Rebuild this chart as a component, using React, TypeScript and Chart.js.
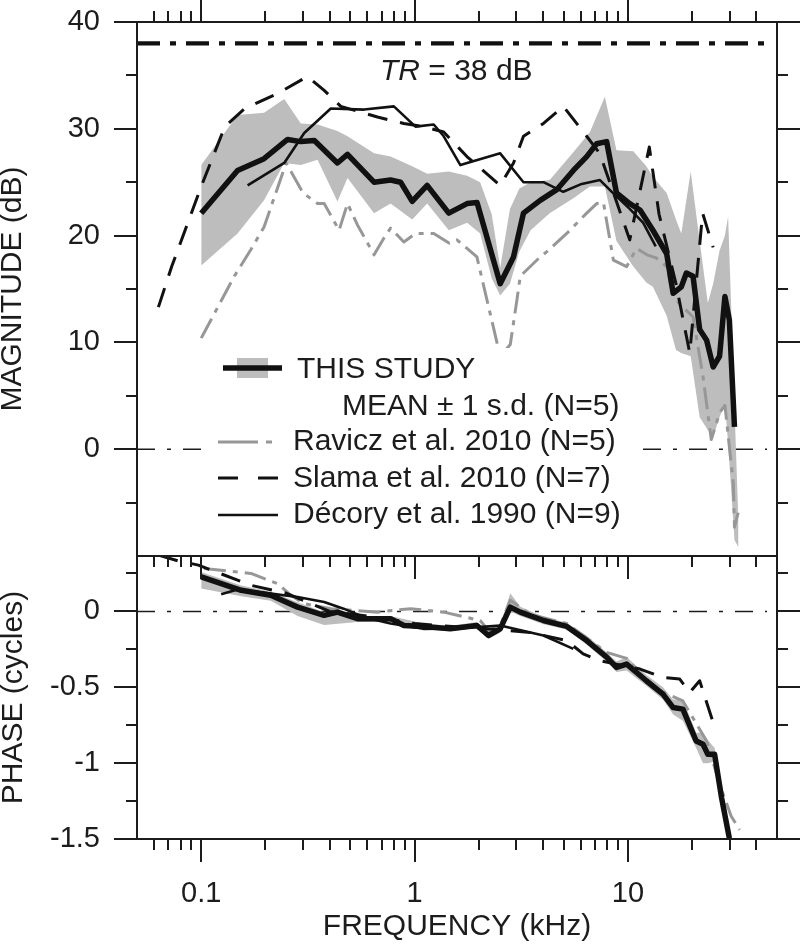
import React, { useEffect, useRef } from 'react';
import { Chart, registerables } from 'chart.js';

Chart.register(...registerables);

const FONT = '"Liberation Sans", Arial, Helvetica, sans-serif';
const INK = '#1c1c1c';
const BAND_COLOR = '#bdbdbd';
const RAVICZ_COLOR = '#979797';

// ---------- axes ----------
const FREQ_MIN = 0.05;
const FREQ_MAX = 50;
const FREQ_MAJOR = [0.1, 1, 10];
const FREQ_LABELS = ['0.1', '1', '10'];
const FREQ_MINOR = [0.06, 0.07, 0.08, 0.09, 0.2, 0.3, 0.4, 0.5, 0.6, 0.7, 0.8, 0.9, 2, 3, 4, 5, 6, 7, 8, 9, 20, 30, 40];

const MAG_MIN = -10;
const MAG_MAX = 40;
const MAG_MAJOR = [40, 30, 20, 10, 0];
const MAG_LABELS = ['40', '30', '20', '10', '0'];
const MAG_MINOR = [35, 25, 15, 5, -5];

const PH_MIN = -1.5;
const PH_MAX = 0.365;
const PH_MAJOR = [0, -0.5, -1, -1.5];
const PH_LABELS = ['0', '-0.5', '-1', '-1.5'];
const PH_MINOR = [0.25, -0.25, -0.75, -1.25];

const TR_DB = 38;

// ---------- magnitude (dB) ----------
const STUDY_MAG_F = [0.1, 0.148, 0.197, 0.254, 0.293, 0.339, 0.435, 0.485, 0.646, 0.772, 0.86, 0.975, 1.146, 1.447, 1.763, 1.963, 2.52, 2.91, 3.24, 3.88, 4.64, 5.55, 6.41, 7.14, 7.95, 8.84, 10.2, 11.4, 13.1, 15.2, 16.3, 17.8, 18.8, 20.2, 21.7, 23.4, 25.1, 26.9, 28.5, 29.9, 31.6];
const STUDY_MAG = [22.1, 26.1, 27.2, 29.0, 28.8, 28.9, 26.8, 27.6, 25.0, 25.2, 25.0, 23.2, 24.7, 22.1, 23.0, 23.1, 15.5, 18.0, 22.1, 23.3, 24.3, 26.1, 27.4, 28.6, 28.8, 24.0, 23.0, 22.4, 20.5, 18.3, 14.6, 15.2, 16.5, 16.2, 11.2, 10.2, 7.7, 8.7, 14.3, 12.1, 2.1];

const BAND_MAG_F = [0.1, 0.148, 0.197, 0.245, 0.293, 0.351, 0.435, 0.485, 0.646, 0.772, 0.975, 1.146, 1.447, 1.763, 2.03, 2.3, 2.52, 2.8, 3.1, 3.5, 4.3, 5.55, 6.64, 7.8, 8.84, 10.6, 12.2, 13.1, 15.2, 16.8, 17.8, 19.7, 21.7, 23.7, 25.1, 26.9, 28.5, 29.5, 31.6, 33.0];
const BAND_MAG_UPPER = [26.6, 31.3, 31.5, 32.8, 30.5, 30.4, 29.8, 29.3, 27.7, 27.4, 26.5, 25.8, 26.0, 25.6, 25.0, 22.0, 17.0, 22.5, 24.4, 25.0, 25.2, 27.8, 29.7, 33.0, 28.0, 27.9, 26.5, 25.5, 24.0, 21.5, 20.2, 26.0, 19.5, 13.7, 15.5, 18.6, 20.0, 21.8, 4.0, -7.0];
const BAND_MAG_LOWER = [17.2, 20.2, 23.3, 26.8, 26.6, 27.1, 23.2, 25.4, 22.1, 23.0, 21.5, 23.0, 20.5, 21.2, 20.2, 16.0, 14.4, 15.5, 18.5, 20.5, 22.1, 23.5, 24.6, 24.6, 19.5, 17.1, 15.6, 15.2, 12.5, 9.3, 9.0, 8.7, 3.0, 1.8, 1.2, 3.0, 4.3, 0.5, -8.5, -9.2];

const RAVICZ_MAG_F = [0.1, 0.143, 0.171, 0.197, 0.25, 0.3, 0.351, 0.377, 0.443, 0.485, 0.54, 0.646, 0.72, 0.772, 0.891, 1.01, 1.23, 1.45, 1.58, 1.96, 2.52, 2.81, 3.02, 3.13, 3.88, 4.17, 5.17, 6.41, 7.14, 7.68, 8.55, 9.87, 10.97, 12.3, 13.6, 15.2, 16.3, 18.1, 20.2, 22.5, 24.6, 26.9, 28.5, 31.2, 31.6, 33.4];
const RAVICZ_MAG = [10.4, 16.2, 18.7, 20.8, 26.8, 24.0, 23.0, 23.0, 20.5, 23.0, 21.0, 18.2, 19.8, 20.7, 19.4, 20.2, 20.2, 19.3, 19.6, 18.0, 8.7, 9.8, 14.0, 16.2, 18.0, 18.5, 20.2, 22.1, 23.0, 23.1, 17.7, 17.1, 18.8, 18.2, 17.9, 17.1, 14.3, 13.3, 12.4, 6.8, 0.9, 3.4, 4.1, -3.2, -7.3, -5.4];

const SLAMA_MAG_F = [0.063, 0.0727, 0.1, 0.129, 0.16, 0.228, 0.315, 0.377, 0.451, 0.67, 0.891, 1.105, 1.37, 1.76, 2.52, 2.91, 3.24, 4.02, 4.98, 6.41, 7.38, 10.2, 12.6, 14.0, 16.8, 19.5, 22.4, 25.1];
const SLAMA_MAG = [13.3, 17.1, 24.6, 30.2, 31.9, 33.3, 34.9, 33.6, 32.1, 31.1, 30.5, 30.2, 29.7, 27.4, 24.7, 26.8, 29.3, 30.5, 32.1, 29.3, 27.7, 19.6, 28.3, 22.0, 15.5, 9.0, 22.1, 18.9];

const DECORY_MAG_F = [0.165, 0.245, 0.304, 0.405, 0.58, 0.8, 1.01, 1.23, 1.37, 1.64, 2.52, 3.24, 4.02, 4.98, 6.0, 7.4, 8.5, 10.2, 11.8, 13.5];
const DECORY_MAG = [24.7, 26.8, 29.6, 31.9, 31.8, 32.1, 30.2, 30.4, 29.3, 26.6, 27.7, 25.0, 25.0, 24.1, 24.8, 25.2, 24.0, 22.5, 21.2, 19.0];

// ---------- phase (cycles) ----------
const STUDY_PH_F = [0.1, 0.154, 0.212, 0.283, 0.377, 0.435, 0.54, 0.772, 0.891, 1.1, 1.47, 1.96, 2.22, 2.52, 2.81, 3.13, 4.02, 5.17, 6.41, 7.95, 8.84, 9.87, 12.2, 14.6, 16.3, 18.1, 20.9, 22.5, 23.7, 25.5, 27.5, 29.9];
const STUDY_PH = [0.227, 0.139, 0.106, 0.028, -0.026, -0.005, -0.048, -0.048, -0.093, -0.099, -0.115, -0.093, -0.159, -0.115, 0.028, -0.005, -0.06, -0.099, -0.192, -0.302, -0.369, -0.347, -0.457, -0.545, -0.634, -0.644, -0.854, -0.876, -0.942, -0.942, -1.23, -1.495];

const BAND_PH_F = [0.1, 0.154, 0.212, 0.283, 0.377, 0.54, 0.772, 1.1, 1.47, 1.96, 2.22, 2.52, 2.81, 3.13, 4.02, 5.17, 6.41, 7.95, 8.84, 9.87, 12.2, 14.6, 16.3, 18.1, 20.9, 22.5, 23.7, 25.5, 27.5, 29.9];
const BAND_PH_UPPER = [0.26, 0.17, 0.13, 0.06, -0.005, -0.03, -0.03, -0.08, -0.095, -0.07, -0.14, -0.09, 0.12, 0.03, -0.035, -0.075, -0.16, -0.27, -0.33, -0.3, -0.42, -0.5, -0.58, -0.58, -0.8, -0.8, -0.85, -0.9, -1.18, -1.45];
const BAND_PH_LOWER = [0.15, 0.1, 0.07, -0.03, -0.09, -0.07, -0.07, -0.12, -0.13, -0.11, -0.18, -0.14, 0.0, -0.03, -0.085, -0.12, -0.22, -0.33, -0.4, -0.39, -0.49, -0.58, -0.68, -0.72, -0.9, -1.0, -1.0, -0.99, -1.28, -1.52];

const RAVICZ_PH_F = [0.103, 0.171, 0.228, 0.263, 0.304, 0.405, 0.67, 0.958, 1.37, 2.03, 2.22, 2.52, 2.81, 3.5, 5.17, 7.95, 9.87, 13.0, 18.1, 23.5, 26.9, 30.5, 33.4];
const RAVICZ_PH = [0.283, 0.25, 0.183, 0.106, 0.051, 0.018, -0.005, 0.018, -0.005, -0.06, -0.126, -0.093, 0.073, -0.02, -0.08, -0.27, -0.31, -0.5, -0.59, -0.86, -1.14, -1.35, -1.44];

const SLAMA_PH_F = [0.063, 0.078, 0.097, 0.171, 0.25, 0.4, 0.67, 1.0, 1.5, 2.5, 3.5, 5.17, 6.17, 7.38, 11.4, 14.6, 17.5, 19.5, 21.7, 25.1];
const SLAMA_PH = [0.371, 0.333, 0.305, 0.172, 0.12, 0.0, -0.04, -0.08, -0.1, -0.12, -0.14, -0.192, -0.28, -0.325, -0.38, -0.435, -0.446, -0.534, -0.457, -0.733];

const DECORY_PH_F = [0.124, 0.148, 0.212, 0.283, 0.377, 0.465, 0.58, 0.772, 1.1, 1.7, 2.52, 4.02, 5.55];
const DECORY_PH = [0.113, 0.144, 0.117, 0.095, 0.062, 0.018, -0.038, -0.08, -0.115, -0.11, -0.093, -0.159, -0.247];

// ---------- legend text ----------
const LEGEND_STUDY = 'THIS STUDY';
const LEGEND_STUDY_2 = 'MEAN ± 1 s.d. (N=5)';
const LEGEND_RAVICZ = 'Ravicz et al. 2010 (N=5)';
const LEGEND_SLAMA = 'Slama et al. 2010 (N=7)';
const LEGEND_DECORY = 'Décory et al. 1990 (N=9)';

const DASH_RAVICZ = [22, 7, 5, 7];
const DASH_SLAMA = [20, 13];

const pts = (f: number[], v: number[]) => f.map((x, i) => ({ x, y: v[i] }));

function lineDs(label: string, f: number[], v: number[], axis: string, color: string, width: number, dash: number[], order: number) {
  return {
    label,
    data: pts(f, v),
    yAxisID: axis,
    borderColor: color,
    borderWidth: width,
    borderDash: dash,
    borderCapStyle: 'butt',
    borderJoinStyle: 'round',
    pointRadius: 0,
    fill: false,
    tension: 0,
    order,
  };
}

function bandDs(label: string, f: number[], v: number[], axis: string, fill: any) {
  return {
    label,
    data: pts(f, v),
    yAxisID: axis,
    borderColor: 'rgba(0,0,0,0)',
    borderWidth: 0,
    backgroundColor: BAND_COLOR,
    pointRadius: 0,
    fill,
    tension: 0,
    order: 20,
  };
}

const decorPlugin = {
  id: 'decor',
  beforeDatasetsDraw(chart: any) {
    const { ctx, chartArea: a, scales } = chart;
    const ym = scales.yMag;
    const yp = scales.yPh;
    ctx.save();
    ctx.strokeStyle = INK;
    ctx.lineWidth = 1.5;
    ctx.setLineDash([18, 12, 4, 12]);
    for (const y of [ym.getPixelForValue(0), yp.getPixelForValue(0)]) {
      ctx.beginPath();
      ctx.moveTo(a.left, y);
      ctx.lineTo(a.right - 10, y);
      ctx.stroke();
    }
    ctx.lineWidth = 4.2;
    ctx.strokeStyle = '#111';
    ctx.setLineDash([23, 10, 6, 10]);
    const yt = ym.getPixelForValue(TR_DB);
    ctx.beginPath();
    ctx.moveTo(a.left, yt);
    ctx.lineTo(a.right - 10, yt);
    ctx.stroke();
    ctx.restore();
  },
  afterDatasetsDraw(chart: any) {
    const { ctx, chartArea: a, scales } = chart;
    const xs = scales.x;
    const ym = scales.yMag;
    const yp = scales.yPh;
    const L = a.left;
    const T = a.top;
    ctx.save();

    // ---- legend (white panel, samples, texts)
    ctx.fillStyle = '#fff';
    ctx.fillRect(L + 71, T + 326, 428, 182);
    // row 1: band + thick line
    ctx.fillStyle = BAND_COLOR;
    ctx.fillRect(L + 100, T + 336, 31, 20);
    ctx.strokeStyle = '#111';
    ctx.lineWidth = 5.5;
    ctx.setLineDash([]);
    ctx.beginPath();
    ctx.moveTo(L + 86, T + 346);
    ctx.lineTo(L + 145, T + 346);
    ctx.stroke();
    // row 3: Ravicz
    ctx.strokeStyle = RAVICZ_COLOR;
    ctx.lineWidth = 3;
    ctx.setLineDash([40, 8, 6, 8]);
    ctx.beginPath();
    ctx.moveTo(L + 81, T + 420);
    ctx.lineTo(L + 141, T + 420);
    ctx.stroke();
    // row 4: Slama
    ctx.strokeStyle = '#111';
    ctx.setLineDash([20, 20]);
    ctx.beginPath();
    ctx.moveTo(L + 81, T + 456);
    ctx.lineTo(L + 141, T + 456);
    ctx.stroke();
    // row 5: Décory
    ctx.setLineDash([]);
    ctx.lineWidth = 2.6;
    ctx.beginPath();
    ctx.moveTo(L + 81, T + 493);
    ctx.lineTo(L + 141, T + 493);
    ctx.stroke();

    ctx.fillStyle = INK;
    ctx.textBaseline = 'alphabetic';
    ctx.textAlign = 'left';
    ctx.font = `30px ${FONT}`;
    ctx.fillText(LEGEND_STUDY, L + 160, T + 356);
    ctx.fillText(LEGEND_STUDY_2, L + 205, T + 393);
    ctx.fillText(LEGEND_RAVICZ, L + 156, T + 428);
    ctx.fillText(LEGEND_SLAMA, L + 156, T + 465);
    ctx.fillText(LEGEND_DECORY, L + 156, T + 501);

    // ---- TR annotation
    ctx.font = `italic 30px ${FONT}`;
    const trX = L + 243;
    const trY = T + 58;
    ctx.fillText('TR', trX, trY);
    const w = ctx.measureText('TR').width;
    ctx.font = `30px ${FONT}`;
    ctx.fillText(` = ${TR_DB} dB`, trX + w, trY);

    // ---- frames
    ctx.strokeStyle = INK;
    ctx.lineWidth = 2;
    ctx.strokeRect(a.left, ym.top, a.right - a.left, ym.bottom - ym.top);
    ctx.strokeRect(a.left, yp.top, a.right - a.left, yp.bottom - yp.top);

    // ---- tick marks
    const MAJ = 23;
    const MIN = 11;
    ctx.beginPath();
    const yTicks = (s: any, vals: number[], len: number) => {
      for (const v of vals) {
        const y = Math.round(s.getPixelForValue(v));
        ctx.moveTo(a.left - len, y);
        ctx.lineTo(a.left, y);
        ctx.moveTo(a.right, y);
        ctx.lineTo(a.right + len, y);
      }
    };
    yTicks(ym, MAG_MAJOR, MAJ);
    yTicks(ym, MAG_MINOR, MIN);
    yTicks(yp, PH_MAJOR, MAJ);
    yTicks(yp, PH_MINOR, MIN);
    const xTicks = (vals: number[], len: number) => {
      for (const v of vals) {
        const x = Math.round(xs.getPixelForValue(v));
        ctx.moveTo(x, ym.top);
        ctx.lineTo(x, ym.top - len);
        ctx.moveTo(x, yp.top);
        ctx.lineTo(x, yp.top + len);
        ctx.moveTo(x, yp.bottom);
        ctx.lineTo(x, yp.bottom + len);
      }
    };
    xTicks(FREQ_MAJOR, MAJ);
    xTicks(FREQ_MINOR, MIN);
    ctx.stroke();
    ctx.restore();
  },
};

export default function App() {
  const ref = useRef<HTMLCanvasElement>(null);

  useEffect(() => {
    if (!ref.current) return;
    Chart.defaults.font.family = FONT;
    Chart.defaults.color = INK;

    const tickFont = { family: FONT, size: 29 };
    const titleFont = { family: FONT, size: 30, lineHeight: 0.86 };

    const datasets: any[] = [
      lineDs(LEGEND_STUDY, STUDY_MAG_F, STUDY_MAG, 'yMag', '#111', 5.5, [], 0),
      lineDs(LEGEND_DECORY, DECORY_MAG_F, DECORY_MAG, 'yMag', '#111', 2.6, [], 1),
      lineDs(LEGEND_SLAMA, SLAMA_MAG_F, SLAMA_MAG, 'yMag', '#111', 3, DASH_SLAMA, 2),
      lineDs(LEGEND_RAVICZ, RAVICZ_MAG_F, RAVICZ_MAG, 'yMag', RAVICZ_COLOR, 3, DASH_RAVICZ, 3),
      bandDs('mag +1 s.d.', BAND_MAG_F, BAND_MAG_UPPER, 'yMag', false),
      bandDs('mag -1 s.d.', BAND_MAG_F, BAND_MAG_LOWER, 'yMag', '-1'),
      lineDs(LEGEND_STUDY + ' phase', STUDY_PH_F, STUDY_PH, 'yPh', '#111', 5.5, [], 0),
      lineDs(LEGEND_DECORY + ' phase', DECORY_PH_F, DECORY_PH, 'yPh', '#111', 2.6, [], 1),
      lineDs(LEGEND_SLAMA + ' phase', SLAMA_PH_F, SLAMA_PH, 'yPh', '#111', 3, DASH_SLAMA, 2),
      lineDs(LEGEND_RAVICZ + ' phase', RAVICZ_PH_F, RAVICZ_PH, 'yPh', RAVICZ_COLOR, 3, DASH_RAVICZ, 3),
      bandDs('phase +1 s.d.', BAND_PH_F, BAND_PH_UPPER, 'yPh', false),
      bandDs('phase -1 s.d.', BAND_PH_F, BAND_PH_LOWER, 'yPh', '-1'),
    ];

    const chart = new Chart(ref.current, {
      type: 'line',
      data: { datasets },
      plugins: [decorPlugin],
      options: {
        responsive: false,
        animation: false,
        events: [],
        layout: { padding: { left: 0, right: 23, top: 22, bottom: 0 } },
        plugins: { legend: { display: false }, tooltip: { enabled: false } },
        scales: {
          x: {
            type: 'logarithmic',
            position: 'bottom',
            min: FREQ_MIN,
            max: FREQ_MAX,
            afterBuildTicks: (s: any) => { s.ticks = FREQ_MAJOR.map((v) => ({ value: v })); },
            afterFit: (s: any) => { s.height = 106; },
            grid: { display: false, drawTicks: true, tickLength: 38 },
            border: { display: false },
            ticks: { autoSkip: false, maxRotation: 0, padding: 0, color: INK, font: tickFont, callback: (_v: any, i: number) => FREQ_LABELS[i] },
            title: { display: true, text: 'FREQUENCY (kHz)', color: INK, font: { family: FONT, size: 30, lineHeight: 1.2 }, padding: { top: 0, bottom: 0 } },
          },
          yPh: {
            type: 'linear',
            position: 'left',
            stack: 'panels',
            stackWeight: 283,
            min: PH_MIN,
            max: PH_MAX,
            afterBuildTicks: (s: any) => { s.ticks = PH_MAJOR.map((v) => ({ value: v })); },
            afterFit: (s: any) => { s.width = 137; },
            grid: { display: false, drawTicks: true, tickLength: 37 },
            border: { display: false },
            ticks: { padding: 0, color: INK, font: tickFont, callback: (_v: any, i: number) => PH_LABELS[i] },
            title: { display: true, text: 'PHASE (cycles)', color: INK, font: titleFont, padding: { top: 1, bottom: 0 } },
          },
          yMag: {
            type: 'linear',
            position: 'left',
            stack: 'panels',
            stackWeight: 534,
            min: MAG_MIN,
            max: MAG_MAX,
            afterBuildTicks: (s: any) => { s.ticks = MAG_MAJOR.map((v) => ({ value: v })); },
            afterFit: (s: any) => { s.width = 137; },
            grid: { display: false, drawTicks: true, tickLength: 37 },
            border: { display: false },
            ticks: { padding: 0, color: INK, font: tickFont, callback: (_v: any, i: number) => MAG_LABELS[i] },
            title: { display: true, text: 'MAGNITUDE (dB)', color: INK, font: titleFont, padding: { top: 0, bottom: 0 } },
          },
        },
      } as any,
    });
    return () => chart.destroy();
  }, []);

  return (
    <div style={{ position: 'absolute', left: 0, top: 0, width: 800, height: 945, background: '#fff' }}>
      <canvas ref={ref} width={800} height={945} style={{ display: 'block', width: 800, height: 945 }} />
    </div>
  );
}
